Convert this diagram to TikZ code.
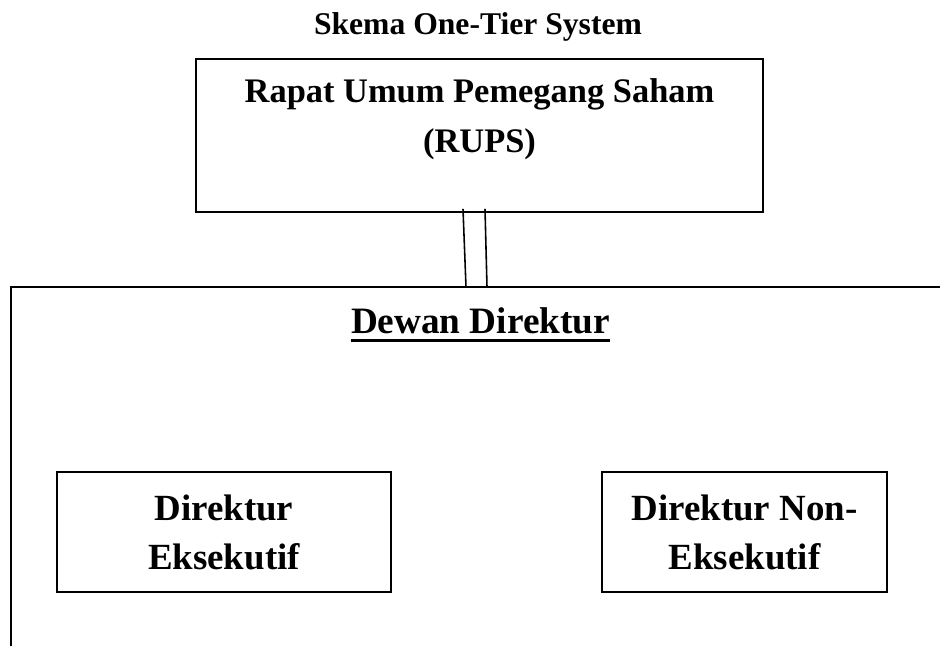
\documentclass[tikz,border=0pt]{standalone}
\usepackage{fontspec}
\setmainfont{Liberation Serif}
\usetikzlibrary{calc}

\begin{document}
\begin{tikzpicture}[x=0.02cm,y=-0.02cm,
  orgbox/.style={rectangle,draw,line width=1.1pt,inner sep=0pt},
  orgtext/.style={font=\bfseries\fontsize{21}{27.8}\selectfont,align=center,inner sep=0pt}]
\useasboundingbox (0,0) rectangle (940,646);
\node (judul) at (478,34) [anchor=base,inner sep=0pt,font=\bfseries\fontsize{18}{22}\selectfont] {Skema One-Tier System};
\node (rups) at (479.5,135.5) [orgbox,minimum width=11.34cm,minimum height=3.06cm] {};
\node (rupsteks) at (479.5,78.6) [orgtext,anchor=north,font=\bfseries\fontsize{19.6}{28.3}\selectfont] {Rapat Umum Pemegang Saham\\(RUPS)};
\coordinate (dewanBL) at (11,646);
\coordinate (dewanTL) at (11,287);
\coordinate (dewanTR) at (940,287);
\draw[line width=1.1pt] (dewanBL) -- (dewanTL) -- (dewanTR);
\coordinate (garisA) at (466,287);
\coordinate (garisB) at (487,287);
\draw[line width=0.9pt] ($(rups.south)+(-16.5,-4)$) -- (garisA);
\draw[line width=0.9pt] ($(rups.south)+(5.5,-4)$) -- (garisB);
\node (dewan) at (480.5,333) [anchor=base,inner sep=0pt,font=\bfseries\fontsize{21.2}{25}\selectfont] {Dewan Direktur};
\draw[line width=1.7pt] ($(dewan.base west)+(0,7.5)$) -- ($(dewan.base east)+(0,7.5)$);
\node (eksekutif) at (224,532) [orgbox,orgtext,minimum width=6.68cm,minimum height=2.4cm] {Direktur\\Eksekutif};
\node (noneksekutif) at (744.5,532) [orgbox,orgtext,minimum width=5.7cm,minimum height=2.4cm] {Direktur Non-\\Eksekutif};
\end{tikzpicture}
\end{document}
